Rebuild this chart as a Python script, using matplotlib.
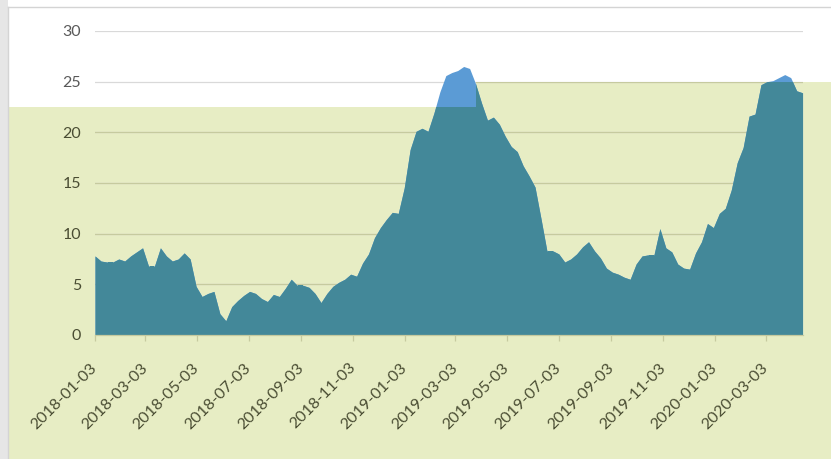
import matplotlib
matplotlib.use("Agg")
import matplotlib.pyplot as plt
from matplotlib.patches import Polygon, Rectangle
import numpy as np
import pandas as pd

# weekly values
start_date = "2018-01-03"
values = [
    7.8, 7.3, 7.2, 7.2, 7.5, 7.3, 7.8, 8.2, 8.6, 6.8,
    6.8, 8.6, 7.8, 7.3, 7.5, 8.1, 7.5, 4.8, 3.8, 4.1,
    4.3, 2.1, 1.4, 2.8, 3.4, 3.9, 4.3, 4.1, 3.6, 3.3,
    4.0, 3.8, 4.6, 5.5, 4.9, 4.9, 4.7, 4.1, 3.2, 4.1,
    4.8, 5.2, 5.5, 6.0, 5.8, 7.1, 8.0, 9.6, 10.6, 11.4,
    12.1, 12.0, 14.5, 18.3, 20.1, 20.4, 20.1, 21.9, 24.0, 25.6,
    25.9, 26.1, 26.5, 26.3, 24.8, 22.9, 21.2, 21.5, 20.8, 19.6,
    18.6, 18.1, 16.7, 15.7, 14.6, 11.5, 8.3, 8.3, 8.0, 7.2,
    7.5, 8.0, 8.7, 9.2, 8.3, 7.6, 6.6, 6.2, 6.0, 5.7,
    5.5, 7.0, 7.8, 7.9, 7.9, 10.5, 8.6, 8.2, 7.0, 6.6,
    6.5, 8.1, 9.2, 11.0, 10.6, 12.0, 12.5, 14.3, 17.0, 18.5,
    21.6, 21.8, 24.7, 25.0, 25.1, 25.4, 25.7, 25.4, 24.1, 23.9,
]
tick_dates = [
    "2018-01-03", "2018-03-03", "2018-05-03", "2018-07-03", "2018-09-03",
    "2018-11-03", "2019-01-03", "2019-03-03", "2019-05-03", "2019-07-03",
    "2019-09-03", "2019-11-03", "2020-01-03", "2020-03-03",
]
y_ticks = [0, 5, 10, 15, 20, 25, 30]

dates = pd.date_range(start_date, periods=len(values), freq="7D")

W, H = 831, 459
blue = "#5B9BD5"
teal = "#438899"
green_bg = "#E7EDC4"
grid_white = "#D9D9D9"
grid_green = "#C6CA9F"
text_gray = "#595959"
text_green = "#4A4D33"

fig = plt.figure(figsize=(W / 100, H / 100), dpi=100)
fig.patch.set_facecolor("white")
plt.rcParams["font.family"] = ["Lato", "DejaVu Sans"]


def px(x, y):
    return (x / W, 1 - y / H)


# the green overlay with its step
overlay_pts = [px(8, 107), px(476, 107), px(476, 82), px(831, 82), px(831, 459), px(8, 459)]
fig.add_artist(Polygon(overlay_pts, closed=True, transform=fig.transFigure,
                       facecolor=green_bg, edgecolor="none", zorder=-2))
# left grey strip and chart border
fig.add_artist(Rectangle(px(0, 459), 8 / W, 1, transform=fig.transFigure,
                         facecolor="#E6E6E6", edgecolor="none", zorder=-1))
fig.add_artist(plt.Line2D([8 / W, 1], [1 - 7 / H] * 2, transform=fig.transFigure,
                          color="#D4D4D4", lw=1, zorder=-1))
fig.add_artist(plt.Line2D([8 / W] * 2, [0, 1 - 7 / H], transform=fig.transFigure,
                          color="#D4D4D4", lw=1, zorder=-1))

ax = fig.add_axes([95 / W, (H - 335) / H, (802.6 - 95) / W, (335 - 31) / H])
ax.set_facecolor("none")

clip = Polygon(overlay_pts, closed=True, transform=fig.transFigure)

# gridlines: grey on white, olive inside the overlay
for yv in y_ticks[1:]:
    ax.axhline(yv, color=grid_white, lw=0.9, zorder=1)
    g = ax.axhline(yv, color=grid_green, lw=0.9, zorder=1.1)
    g.set_clip_path(clip)

area_blue = ax.fill_between(dates, values, 0, color=blue, lw=0, zorder=2)
area_teal = ax.fill_between(dates, values, 0, color=teal, lw=0, zorder=2.1)
area_teal.set_clip_path(clip)

ax.set_xlim(dates[0], dates[-1])
ax.set_ylim(0, 30)
ax.set_yticks(y_ticks)
ax.set_yticklabels([str(v) for v in y_ticks])
for lab, v in zip(ax.get_yticklabels(), y_ticks):
    lab.set_color(text_green if v <= 20 else text_gray)

tick_pos = pd.to_datetime(tick_dates)
ax.set_xticks(tick_pos)
ax.set_xticklabels(tick_dates, rotation=45, ha="right", va="center",
                   rotation_mode="anchor", color=text_green)

ax.tick_params(axis="y", length=0, pad=10, labelsize=11.5)
ax.tick_params(axis="x", length=4, width=0.9, color=grid_green, pad=18, labelsize=11.5)

for s in ["top", "right", "left"]:
    ax.spines[s].set_visible(False)
ax.spines["bottom"].set_color(grid_green)
ax.spines["bottom"].set_linewidth(0.9)
ax.spines["bottom"].set_zorder(3)

fig.savefig("out.png", dpi=100)
